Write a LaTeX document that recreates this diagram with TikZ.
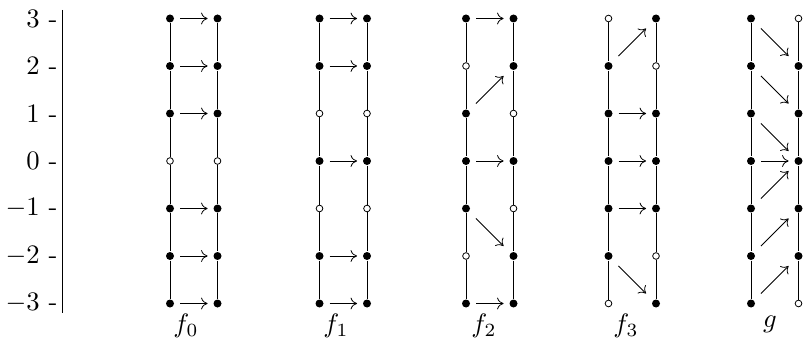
\documentclass[tikz,border=0pt]{standalone}
\usetikzlibrary{arrows.meta}
\begin{document}
\begin{tikzpicture}[x=0.375pt,y=-0.375pt,
  dot/.style={circle,fill=black,inner sep=0pt,minimum size=3pt},
  odot/.style={circle,draw=black,fill=white,line width=0.3pt,inner sep=0pt,minimum size=2.5pt},
  colline/.style={line width=0.3pt},
  tip/.style={-{Computer Modern Rightarrow[length=2.4pt,width=4.4pt]}},
  harr/.style={tip,line width=0.3pt,shorten <=3.75pt,shorten >=3.75pt},
  darr/.style={tip,line width=0.3pt,shorten <=5.3pt,shorten >=5.3pt},
  lab/.style={inner sep=0pt}]
\useasboundingbox (0,0) rectangle (803,342);
% column macro: #1 name, #2 x, #3 styles for levels 3..-3
\newcommand\mkcol[3]{%
  \foreach \s [count=\i from 0] in {#3} {
    \pgfmathsetmacro\yy{18.5+47.5*\i}
    \node[\s] (#1\i) at (#2,\yy) {};
  }
  \foreach \i [evaluate=\i as \j using int(\i+1)] in {0,...,5} {
    \draw[colline] (#1\i) -- (#1\j);
  }
}
% axis
\coordinate (axt) at (62,10);
\coordinate (axb) at (62,313);
\draw[line width=0.3pt] (axt) -- (axb);
\foreach \t [count=\i from 0] in {3,2,1,0,-1,-2,-3} {
  \pgfmathsetmacro\yy{18.5+47.5*\i}
  \node[lab,anchor=east] (tick\i) at (58,\yy) {$\t$ -};
}
% f0
\mkcol{aL}{170}{dot,dot,dot,odot,dot,dot,dot}
\mkcol{aR}{217.5}{dot,dot,dot,odot,dot,dot,dot}
\foreach \i in {0,1,2,4,5,6} {\draw[harr] (aL\i.center) -- (aR\i.center);}
% f1
\mkcol{bL}{319.5}{dot,dot,odot,dot,odot,dot,dot}
\mkcol{bR}{367}{dot,dot,odot,dot,odot,dot,dot}
\foreach \i in {0,1,3,5,6} {\draw[harr] (bL\i.center) -- (bR\i.center);}
% f2
\mkcol{cL}{466}{dot,odot,dot,dot,dot,odot,dot}
\mkcol{cR}{513.5}{dot,dot,odot,dot,odot,dot,dot}
\foreach \i in {0,3,6} {\draw[harr] (cL\i.center) -- (cR\i.center);}
\draw[darr] (cL2.center) -- (cR1.center);
\draw[darr] (cL4.center) -- (cR5.center);
% f3
\mkcol{dL}{608.5}{odot,dot,dot,dot,dot,dot,odot}
\mkcol{dR}{656}{dot,odot,dot,dot,dot,odot,dot}
\foreach \i in {2,3,4} {\draw[harr] (dL\i.center) -- (dR\i.center);}
\draw[darr] (dL1.center) -- (dR0.center);
\draw[darr] (dL5.center) -- (dR6.center);
% g
\mkcol{eL}{751}{dot,dot,dot,dot,dot,dot,dot}
\mkcol{eR}{798.5}{odot,dot,dot,dot,dot,dot,odot}
\draw[harr] (eL3.center) -- (eR3.center);
\draw[darr] (eL0.center) -- (eR1.center);
\draw[darr] (eL1.center) -- (eR2.center);
\draw[darr] (eL2.center) -- (eR3.center);
\draw[darr] (eL4.center) -- (eR3.center);
\draw[darr] (eL5.center) -- (eR4.center);
\draw[darr] (eL6.center) -- (eR5.center);
% labels
\node[lab] (la) at (186,326) {$f_0$};
\node[lab] (lb) at (336,326) {$f_1$};
\node[lab] (lc) at (484,326) {$f_2$};
\node[lab] (ld) at (626,326) {$f_3$};
\node[lab] (le) at (770,324) {$g$};
\end{tikzpicture}
\end{document}
